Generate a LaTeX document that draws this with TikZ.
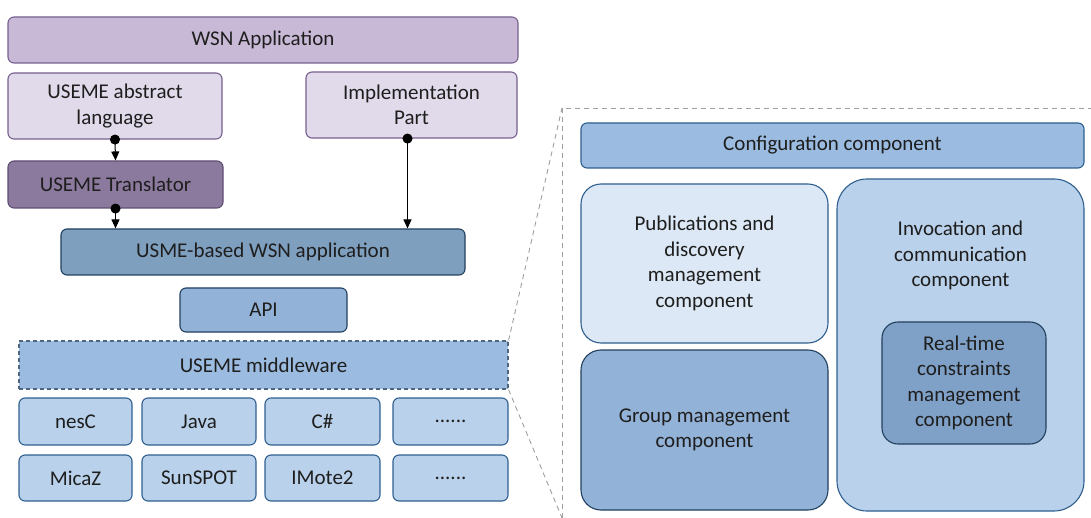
\documentclass[tikz,border=0pt]{standalone}
\usepackage{fontspec}
\setmainfont{Carlito}
\usetikzlibrary{arrows.meta,positioning}
\definecolor{appfill}{HTML}{C8B9D6}
\definecolor{langfill}{HTML}{E1DAEA}
\definecolor{transfill}{HTML}{8C7A9E}
\definecolor{purpleline}{HTML}{76608E}
\definecolor{usmefill}{HTML}{7F9FBF}
\definecolor{apifill}{HTML}{93B2D7}
\definecolor{mwfill}{HTML}{9BBCE0}
\definecolor{platfill}{HTML}{B9D1EA}
\definecolor{pubfill}{HTML}{DCE8F5}
\definecolor{rtfill}{HTML}{7FA1C7}
\definecolor{blueline}{HTML}{2F5F8F}
\definecolor{darkline}{HTML}{22405F}
\definecolor{textgray}{HTML}{1E1E1E}
\definecolor{leadergray}{HTML}{9E9E9E}
\tikzset{
    rounded-box/.style = {rectangle, rounded corners=6pt, line width=1.1pt, inner sep=0pt, align=center, text=textgray, font=\fontsize{21}{25.5}\selectfont},
    purple-box/.style = {rounded-box, draw=purpleline, fill=#1},
    blue-box/.style = {rounded-box, draw=blueline, fill=#1},
    dark-box/.style = {rounded-box, draw=darkline, fill=#1},
    box-size/.style 2 args = {minimum width=#1, minimum height=#2},
    box-text/.style = {align=center, text=textgray, font=\fontsize{21}{25.5}\selectfont},
    dot-arrow/.style = {line width=1pt, {Circle[length=10pt]}-{Triangle[length=9pt,width=8pt]}, shorten <=-5pt},
    zoom-line/.style = {leadergray, line width=0.9pt, dash pattern=on 5pt off 4pt},
}

\begin{document}
\begin{tikzpicture}[x=1pt,y=-1pt]
\useasboundingbox (0,0) rectangle (1091,518);

% left: layers
\node[purple-box=appfill, box-size={510pt}{46pt}] (app) at (263,40) {WSN Application};
\node[purple-box=langfill, box-size={214pt}{66pt}] (abstract) at (115,106) {USEME abstract\\language};
\node[purple-box=langfill, box-size={211pt}{66pt}] (impl) at (411.5,105) {Implementation\\Part};
\node[purple-box=transfill, draw=purpleline!80!black, box-size={215pt}{47pt}] (translator) at (115.5,184.5) {USEME Translator};
\node[dark-box=usmefill, box-size={404pt}{46pt}] (usme) at (263,252) {USME-based WSN application};
\node[dark-box=apifill, box-size={167pt}{44pt}] (api) at (263.5,310) {API};
\node[rounded-box, rounded corners=0pt, fill=mwfill, draw=darkline!80, dash pattern=on 4pt off 3pt, box-size={489pt}{48pt}] (mw) at (263.5,365) {USEME middleware};

\node[blue-box=platfill, box-size={113pt}{47pt}] (nesc) at (75.5,421.5) {nesC};
\node[blue-box=platfill, box-size={114pt}{47pt}] (java) at (199,421.5) {Java};
\node[blue-box=platfill, box-size={115pt}{47pt}] (csharp) at (322.5,421.5) {C\#};
\node[blue-box=platfill, box-size={115pt}{47pt}] (lang-more) at (450.5,421.5) {......};
\node[blue-box=platfill, box-size={113pt}{46pt}] (micaz) at (75.5,478) {MicaZ};
\node[blue-box=platfill, box-size={114pt}{46pt}] (sunspot) at (199,478) {SunSPOT};
\node[blue-box=platfill, box-size={115pt}{46pt}] (imote) at (322.5,478) {IMote2};
\node[blue-box=platfill, box-size={115pt}{46pt}] (mote-more) at (450.5,478) {......};

\draw[dot-arrow] (abstract.south) -- (translator.north);
\draw[dot-arrow] (translator.south) -- (translator.south |- usme.north);
\draw[dot-arrow] ([xshift=-4pt]impl.south) -- ([xshift=-4pt]impl.south |- usme.north);

% zoom into the middleware
\coordinate (zoom-tl) at (562,108);
\coordinate (zoom-bl) at (562,518);
\coordinate (zoom-tr) at (1091,108);
\draw[zoom-line] (mw.north east) -- (zoom-tl);
\draw[zoom-line] (mw.south east) -- (zoom-bl);
\draw[zoom-line] (zoom-bl) -- (zoom-tl) -- (zoom-tr);

% right: components
\node[blue-box=mwfill, box-size={503pt}{45pt}] (config) at (832.5,145.5) {Configuration component};
\node[blue-box=pubfill, rounded corners=20pt, box-size={247pt}{159pt}] (pub) at (704.5,263.5) {Publications and\\discovery\\management\\component};
\node[dark-box=apifill, rounded corners=20pt, box-size={247pt}{160pt}] (group) at (704.5,430) {Group management\\component};
\node[blue-box=platfill, rounded corners=30pt, box-size={247pt}{332pt}] (invoc) at (960.5,345) {};
\node[box-text] (invoc-text) at ([yshift=-77pt]invoc.north) {Invocation and\\communication\\component};
\node[dark-box=rtfill, rounded corners=16pt, box-size={164pt}{122pt}] (realtime) at (964,383) {Real-time\\constraints\\management\\component};
\end{tikzpicture}
\end{document}
